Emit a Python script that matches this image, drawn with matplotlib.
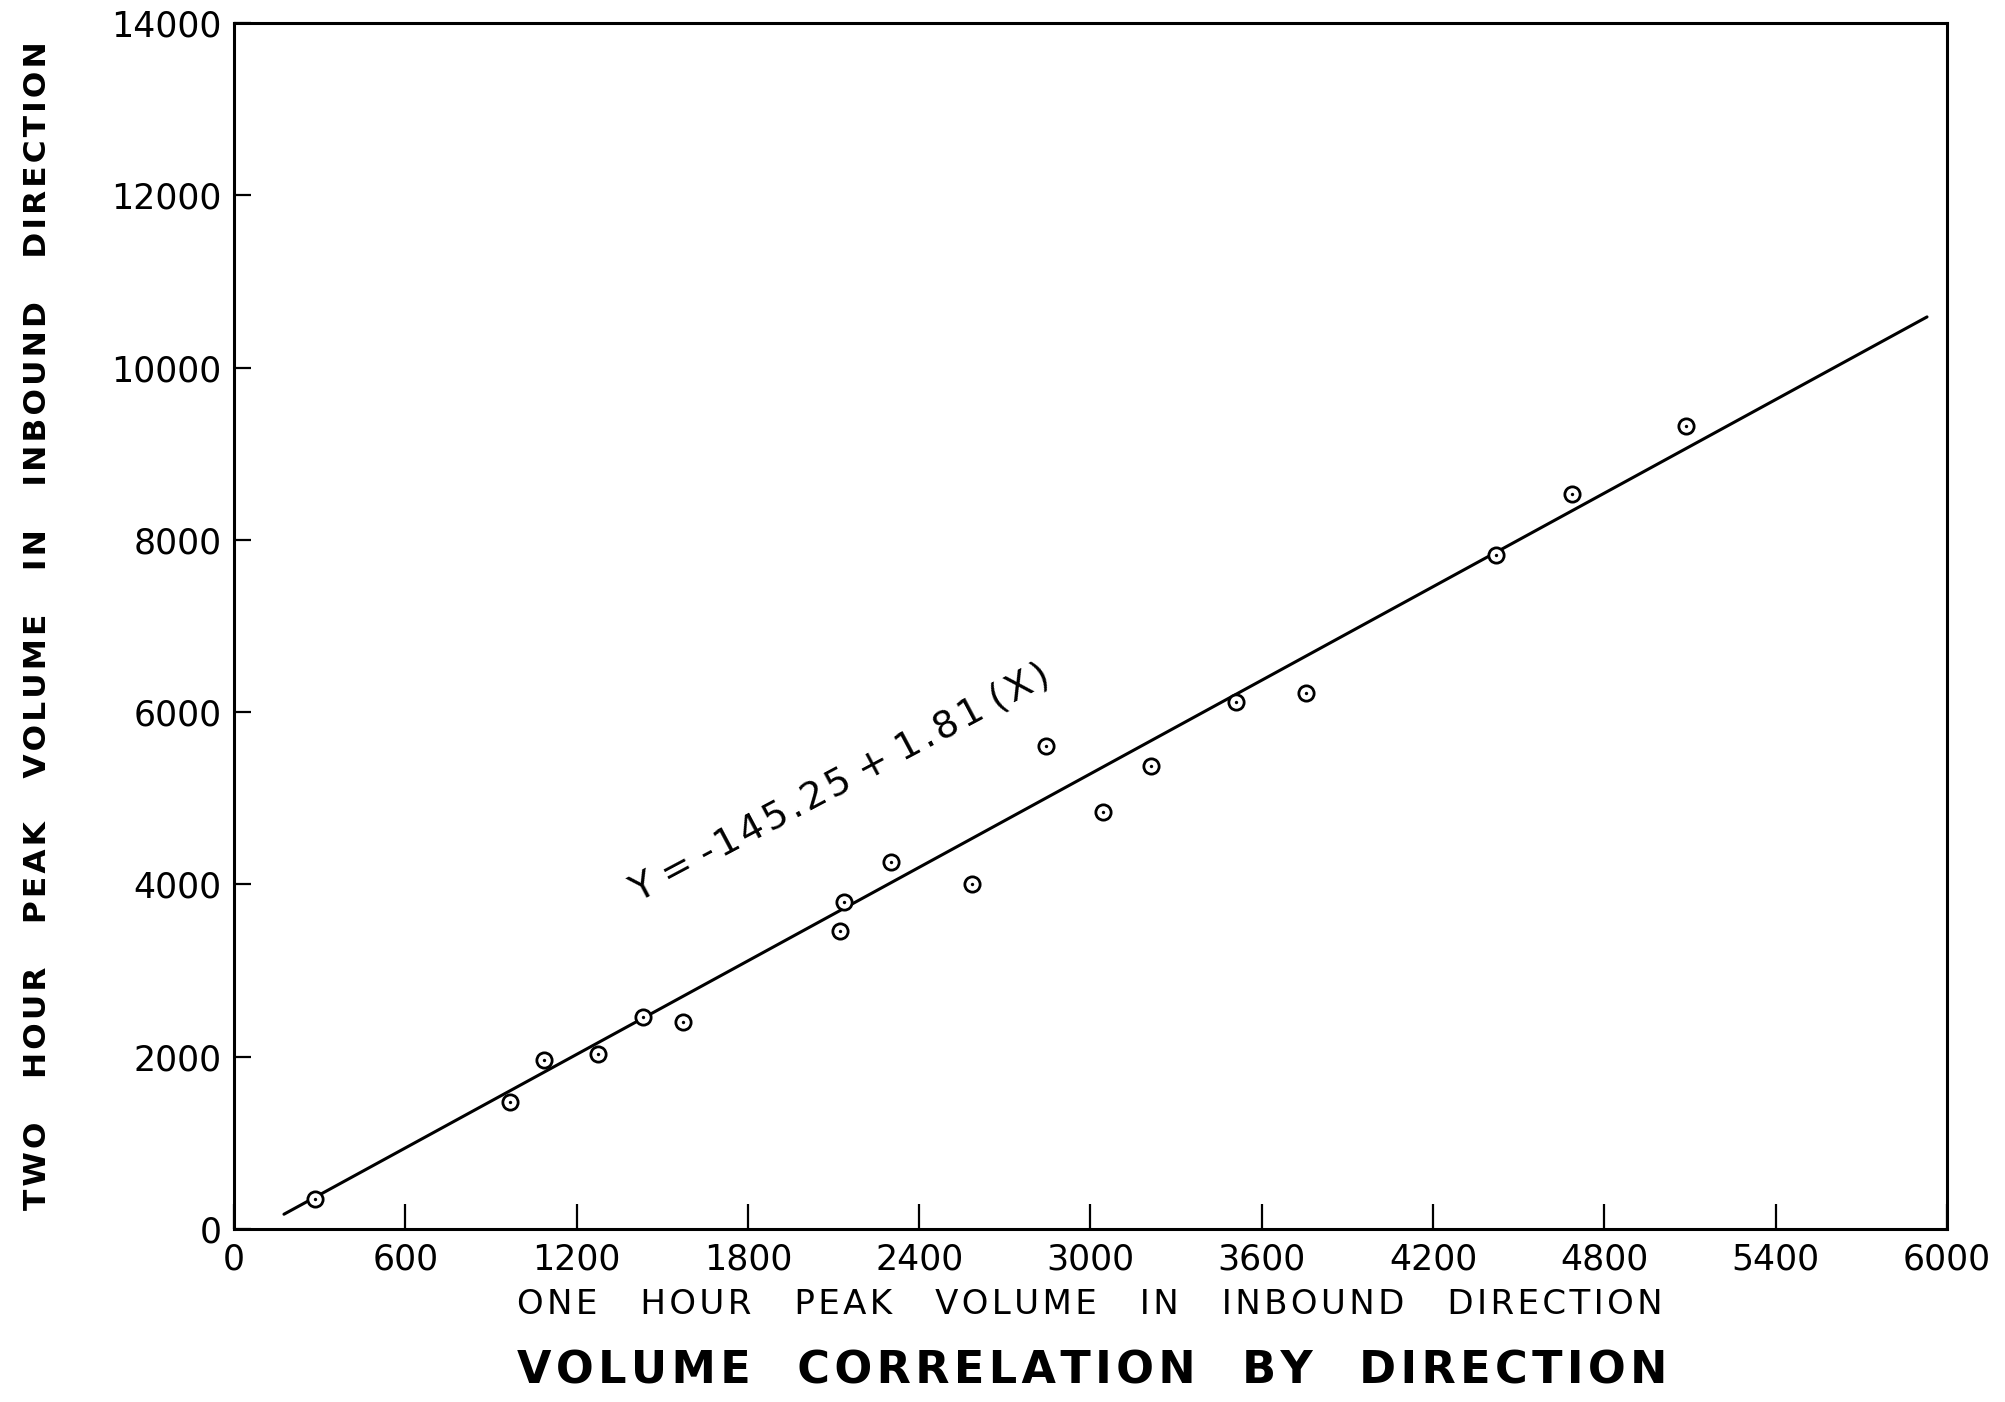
import matplotlib
matplotlib.use("Agg")
import matplotlib.pyplot as plt

# One-hour vs two-hour inbound peak volumes
one_hour = [284, 965, 1086, 1275, 1432, 1571, 2123, 2136, 2302, 2585,
            2845, 3043, 3213, 3510, 3756, 4421, 4685, 5085]
two_hour = [350, 1470, 1960, 2034, 2465, 2405, 3459, 3801, 4261, 4009,
            5612, 4840, 5374, 6117, 6221, 7824, 8537, 9324]

# Regression line Y = a + b X
intercept = -145.25
slope = 1.81
fit_x = [175, 5930]

x_ticks = [0, 600, 1200, 1800, 2400, 3000, 3600, 4200, 4800, 5400, 6000]
y_ticks = [0, 2000, 4000, 6000, 8000, 10000, 12000, 14000]

HAIR = "\u200a"


def spaced(text, gap=1, word_gap=4):
    """Widen letter and word spacing in the style of a lettering guide."""
    words = text.split()
    return (" " * word_gap).join((HAIR * gap).join(w) for w in words)


plt.rcParams["font.family"] = ["DejaVu Sans"]

fig = plt.figure(figsize=(20.06, 14.02), dpi=100)
ax = fig.add_axes([234 / 2006, 1 - 1229 / 1402, (1947 - 234) / 2006, (1229 - 23) / 1402])

fit_y = [intercept + slope * v for v in fit_x]
ax.plot(fit_x, fit_y, color="black", lw=2.2, solid_capstyle="round", zorder=2)

ax.plot(one_hour, two_hour, ls="none", marker="o", ms=11, mfc="white",
        mec="black", mew=2.0, zorder=3)
ax.plot(one_hour, two_hour, ls="none", marker="o", ms=2.4, mfc="black",
        mec="black", mew=0, zorder=4)

ax.set_xlim(0, 6000)
ax.set_ylim(0, 14000)
ax.set_xticks(x_ticks)
ax.set_yticks(y_ticks)
ax.set_xticklabels([str(v) for v in x_ticks])
ax.set_yticklabels([str(v) for v in y_ticks])

ax.tick_params(axis="x", direction="in", length=18, width=1.6, pad=10,
               labelsize=25, top=False)
ax.tick_params(axis="y", direction="in", length=12, width=1.6, pad=9,
               labelsize=25, right=False)
for s in ax.spines.values():
    s.set_linewidth(2.2)

ax.text(2124, 5178, spaced("Y = -145.25 + 1.81 (X)", gap=1, word_gap=1),
        rotation=28, rotation_mode="anchor", ha="center", va="center",
        fontsize=27)

fig.text(38 / 2006, 1 - 626 / 1402,
         spaced("TWO HOUR PEAK VOLUME IN INBOUND DIRECTION", gap=1, word_gap=4),
         rotation=90, ha="center", va="center", fontsize=22.5, fontweight="bold")
fig.text(1090 / 2006, 1 - 1304 / 1402,
         spaced("ONE HOUR PEAK VOLUME IN INBOUND DIRECTION", gap=1, word_gap=4),
         ha="center", va="center", fontsize=24.5)
fig.text(1092 / 2006, 1 - 1371 / 1402,
         spaced("VOLUME CORRELATION BY DIRECTION", gap=1, word_gap=3),
         ha="center", va="center", fontsize=32, fontweight="bold")

fig.savefig("out.png", dpi=100, facecolor="white")
